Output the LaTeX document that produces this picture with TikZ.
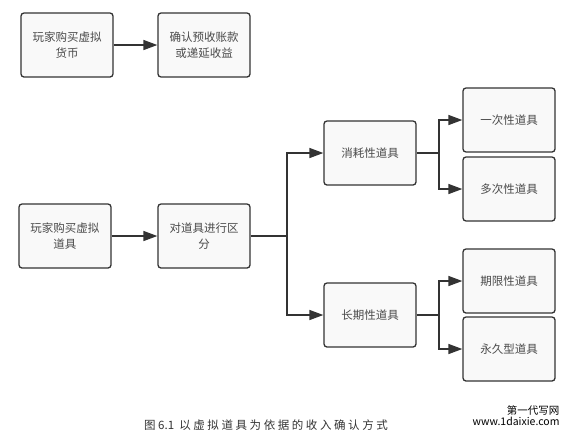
\documentclass[tikz,border=0pt]{standalone}
\usepackage{fontspec}
\setmainfont{Noto Sans CJK SC}
\usepackage{tikz}
\usetikzlibrary{arrows.meta, positioning, calc}

\definecolor{boxline}{HTML}{333333}
\definecolor{boxfill}{HTML}{F9F9F9}
\definecolor{boxtext}{HTML}{4A4A4A}

\begin{document}
\begin{tikzpicture}[x=1pt, y=-1pt,
        item/.style={rectangle, draw=boxline, fill=boxfill, line width=1.3pt, rounded corners=3pt, minimum width=92pt, minimum height=64pt, align=center, text=boxtext, font=\fontsize{11.5}{16}\selectfont},
        line/.style={draw=boxline, line width=1.5pt},
        arrow/.style={line, -{Triangle[length=14pt, width=10pt]}}
    ]
        \useasboundingbox (0,0) rectangle (573,445);

        % Nodes
        \node[item] (currency) at (67, 45) {玩家购买虚拟\\货币};
        \node[item] (deferred) at (204, 45) {确认预收账款\\或递延收益};
        \node[item] (props) at (65, 236) {玩家购买虚拟\\道具};
        \node[item] (divide) at (204, 236) {对道具进行区\\分};
        \node[item] (consume) at (370, 153) {消耗性道具};
        \node[item] (longterm) at (370, 315) {长期性道具};
        \node[item] (once) at (509, 120) {一次性道具};
        \node[item] (multi) at (509, 189) {多次性道具};
        \node[item] (limited) at (509, 281) {期限性道具};
        \node[item] (forever) at (509, 349) {永久型道具};

        % Branch points
        \coordinate (split) at (287, 236);
        \coordinate (splitA) at (439, 153);
        \coordinate (splitB) at (439, 315);

        % Connectors
        \draw[arrow] (currency) -- (deferred);
        \draw[arrow] (props) -- (divide);
        \draw[line] (divide) -- (split);
        \draw[arrow] (split) |- (consume);
        \draw[arrow] (split) |- (longterm);
        \draw[line] (consume) -- (splitA);
        \draw[arrow] (splitA) |- (once);
        \draw[arrow] (splitA) |- (multi);
        \draw[line] (longterm) -- (splitB);
        \draw[arrow] (splitB) |- (limited);
        \draw[arrow] (splitB) |- (forever);

        % Caption
        \node[font=\fontsize{11.5}{13}\selectfont, text=boxline] (caption) at (266, 425) {图 6.1\ \ 以 虚 拟 道 具 为 依 据 的 收 入 确 认 方 式};
        \node[font=\fontsize{10.5}{11}\selectfont, align=right, anchor=east] (mark) at (563, 416) {第一代写网\\www.1daixie.com};
    \end{tikzpicture}
\end{document}
